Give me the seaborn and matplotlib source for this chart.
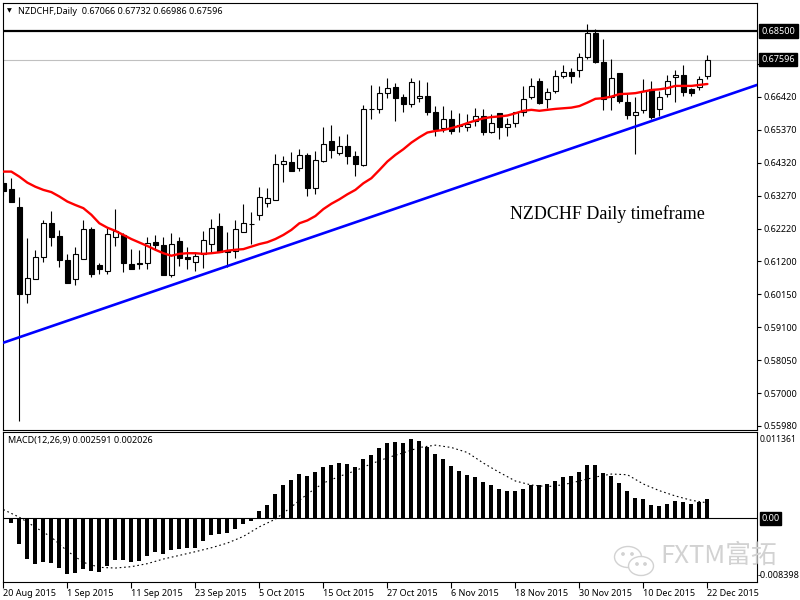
import numpy as np
import pandas as pd
import matplotlib
matplotlib.use("Agg")
import matplotlib.pyplot as plt
import matplotlib.transforms as mtransforms
from matplotlib.patches import Ellipse
import seaborn as sns

# ---------------- data ----------------
open_ = [0.6367, 0.6348, 0.6291, 0.6016, 0.6063, 0.6134, 0.6240, 0.6200, 0.6124, 0.6063,
         0.6126, 0.6221, 0.6108, 0.6087, 0.6196, 0.6203, 0.6110, 0.6115, 0.6115, 0.6180,
         0.6171, 0.6077, 0.6183, 0.6133, 0.6118, 0.6142, 0.6174, 0.6231, 0.6156, 0.6152,
         0.6213, 0.6238, 0.6267, 0.6304, 0.6314, 0.6428, 0.6434, 0.6415, 0.6457, 0.6351,
         0.6439, 0.6501, 0.6464, 0.6486, 0.6454, 0.6425, 0.6603, 0.6602, 0.6653, 0.6672,
         0.6640, 0.6618, 0.6637, 0.6645, 0.6594, 0.6542, 0.6570, 0.6552, 0.6547, 0.6563,
         0.6579, 0.6531, 0.6589, 0.6547, 0.6558, 0.6593, 0.6642, 0.6690, 0.6634, 0.6660,
         0.6708, 0.6719, 0.6727, 0.6767, 0.6843, 0.6751, 0.6640, 0.6716, 0.6624, 0.6584,
         0.6600, 0.6665, 0.6602, 0.6650, 0.6704, 0.6711, 0.6665, 0.6674, 0.67066]
high_ = [0.6390, 0.6383, 0.6323, 0.6193, 0.6156, 0.6251, 0.6279, 0.6219, 0.6142, 0.6164,
         0.6251, 0.6228, 0.6115, 0.6224, 0.6285, 0.6209, 0.6158, 0.6156, 0.6198, 0.6203,
         0.6196, 0.6209, 0.6196, 0.6164, 0.6150, 0.6217, 0.6253, 0.6274, 0.6213, 0.6249,
         0.6302, 0.6275, 0.6355, 0.6351, 0.6460, 0.6454, 0.6466, 0.6476, 0.6462, 0.6468,
         0.6547, 0.6552, 0.6518, 0.6523, 0.6468, 0.6616, 0.6679, 0.6676, 0.6700, 0.6686,
         0.6651, 0.6700, 0.6695, 0.6688, 0.6612, 0.6612, 0.6600, 0.6591, 0.6586, 0.6605,
         0.6603, 0.6586, 0.6591, 0.6573, 0.6594, 0.6676, 0.6700, 0.6700, 0.6669, 0.6727,
         0.6743, 0.6732, 0.6780, 0.6873, 0.6856, 0.6824, 0.6761, 0.6716, 0.6651, 0.6642,
         0.6697, 0.6692, 0.6661, 0.6711, 0.6727, 0.6743, 0.6669, 0.6708, 0.67732]
low_ = [0.6325, 0.6306, 0.5614, 0.5988, 0.6063, 0.6118, 0.6168, 0.6101, 0.6052, 0.6045,
        0.6126, 0.6071, 0.6079, 0.6079, 0.6169, 0.6084, 0.6094, 0.6094, 0.6094, 0.6156,
        0.6077, 0.6071, 0.6103, 0.6094, 0.6087, 0.6098, 0.6150, 0.6150, 0.6101, 0.6131,
        0.6213, 0.6175, 0.6249, 0.6291, 0.6314, 0.6372, 0.6407, 0.6407, 0.6328, 0.6332,
        0.6436, 0.6447, 0.6457, 0.6428, 0.6391, 0.6423, 0.6571, 0.6589, 0.6636, 0.6563,
        0.6594, 0.6610, 0.6626, 0.6584, 0.6518, 0.6531, 0.6524, 0.6529, 0.6534, 0.6549,
        0.6520, 0.6528, 0.6507, 0.6518, 0.6547, 0.6582, 0.6635, 0.6619, 0.6605, 0.6655,
        0.6700, 0.6685, 0.6705, 0.6761, 0.6750, 0.6600, 0.6600, 0.6623, 0.6570, 0.6460,
        0.6589, 0.6570, 0.6581, 0.6642, 0.6626, 0.6645, 0.6645, 0.6663, 0.66986]
close_ = [0.6344, 0.6306, 0.6016, 0.6066, 0.6134, 0.6240, 0.6195, 0.6122, 0.6052, 0.6142,
          0.6221, 0.6079, 0.6094, 0.6205, 0.6216, 0.6113, 0.6094, 0.6111, 0.6179, 0.6172,
          0.6077, 0.6174, 0.6129, 0.6128, 0.6136, 0.6186, 0.6224, 0.6150, 0.6150, 0.6221,
          0.6240, 0.6238, 0.6323, 0.6320, 0.6427, 0.6437, 0.6407, 0.6457, 0.6351, 0.6440,
          0.6491, 0.6471, 0.6486, 0.6452, 0.6428, 0.6602, 0.6603, 0.6653, 0.6669, 0.6639,
          0.6618, 0.6688, 0.6645, 0.6594, 0.6540, 0.6570, 0.6534, 0.6549, 0.6555, 0.6579,
          0.6531, 0.6558, 0.6547, 0.6554, 0.6593, 0.6634, 0.6676, 0.6623, 0.6656, 0.6708,
          0.6719, 0.6708, 0.6767, 0.6843, 0.6751, 0.6635, 0.6700, 0.6629, 0.6584, 0.6593,
          0.6661, 0.6577, 0.6642, 0.6693, 0.6711, 0.6658, 0.6655, 0.6698, 0.67596]
ma_red = [0.6404, 0.6404, 0.6388, 0.6369, 0.6356, 0.6346, 0.6339, 0.6325, 0.6309, 0.6298,
          0.6288, 0.6267, 0.6240, 0.6226, 0.6216, 0.6203, 0.6190, 0.6179, 0.6168, 0.6156,
          0.6145, 0.6137, 0.6143, 0.6145, 0.6145, 0.6143, 0.6145, 0.6148, 0.6153, 0.6156,
          0.6158, 0.6166, 0.6174, 0.6180, 0.6190, 0.6203, 0.6219, 0.6240, 0.6249, 0.6263,
          0.6285, 0.6302, 0.6316, 0.6332, 0.6346, 0.6367, 0.6383, 0.6409, 0.6436, 0.6457,
          0.6475, 0.6496, 0.6513, 0.6528, 0.6533, 0.6536, 0.6542, 0.6549, 0.6558, 0.6566,
          0.6573, 0.6577, 0.6579, 0.6582, 0.6589, 0.6597, 0.6600, 0.6597, 0.6600, 0.6603,
          0.6605, 0.6607, 0.6612, 0.6623, 0.6635, 0.6637, 0.6642, 0.6650, 0.6651, 0.6653,
          0.6658, 0.6663, 0.6665, 0.6669, 0.6676, 0.6676, 0.6676, 0.6679, 0.6682]
macd = [0.0000, -0.00061, -0.00347, -0.00536, -0.0061, -0.00584, -0.00597, -0.00654, -0.00742, -0.00729,
        -0.00667, -0.00698, -0.00716, -0.00637, -0.00558, -0.00558, -0.0058, -0.00566, -0.00505, -0.00452,
        -0.00479, -0.00426, -0.00413, -0.004, -0.00391, -0.00303, -0.00228, -0.00215, -0.00198, -0.00149,
        -0.00083, -0.00035, 0.00092, 0.00176, 0.0032, 0.00435, 0.00505, 0.0058, 0.00558, 0.00606,
        0.00672, 0.00702, 0.00724, 0.00711, 0.00672, 0.00781, 0.00838, 0.00935, 0.01001, 0.01014,
        0.01001, 0.01045, 0.01023, 0.00948, 0.00847, 0.00781, 0.00689, 0.00623, 0.00571, 0.00544,
        0.00479, 0.00439, 0.00386, 0.0036, 0.0036, 0.00386, 0.00439, 0.00439, 0.00452, 0.00492,
        0.00544, 0.00558, 0.0061, 0.00702, 0.00702, 0.00597, 0.00558, 0.00465, 0.0036, 0.00268,
        0.00255, 0.00176, 0.00162, 0.00189, 0.00228, 0.00215, 0.00189, 0.00215, 0.002591]
signal_bar = list(range(0, 89, 2))
signal = [0.00114, 0.00013, -0.00119, -0.0025, -0.00435, -0.00584, -0.0065, -0.00659, -0.00641, -0.00601,
          -0.0054, -0.00492, -0.00443, -0.00391, -0.00329, -0.00241, -0.00114, -0.00013, 0.00149, 0.0032,
          0.00465, 0.00553, 0.00628, 0.0072, 0.00799, 0.00865, 0.00935, 0.00966, 0.00935, 0.00869,
          0.00729, 0.00606, 0.00492, 0.00439, 0.00417, 0.00443, 0.00492, 0.00544, 0.00584, 0.00575,
          0.00452, 0.00364, 0.00294, 0.00237, 0.002026]
trend_bar = [0.0, 94.2]
trend_price = [0.5861, 0.6679]
resistance = 0.68500
price_ticks = [0.67470, 0.66420, 0.65370, 0.64320, 0.63270, 0.62220, 0.61200,
               0.60150, 0.59100, 0.58050, 0.57000, 0.55980]
hidden_tick = 0.67470  # label covered by the current-price box
date_labels = ["20 Aug 2015", "1 Sep 2015", "11 Sep 2015", "23 Sep 2015", "5 Oct 2015",
               "15 Oct 2015", "27 Oct 2015", "6 Nov 2015", "18 Nov 2015", "30 Nov 2015",
               "10 Dec 2015", "22 Dec 2015"]
header = "NZDCHF,Daily  0.67066 0.67732 0.66986 0.67596"
macd_header = "MACD(12,26,9) 0.002591 0.002026"

# ---------------- styling ----------------
sns.set_theme(style="white")
plt.rcParams["font.family"] = ["Noto Sans", "DejaVu Sans"]
FS = 6.5

W, H = 800, 600
fig = plt.figure(figsize=(8, 6), dpi=100)
fig.patch.set_facecolor("white")

def box(l, t, r, b):
    return [l / W, 1 - b / H, (r - l) / W, (b - t) / H]

ax = fig.add_axes(box(2.7, 2.7, 757, 430))
ax2 = fig.add_axes(box(2.7, 432.3, 757, 581.7))

df = pd.DataFrame({"bar": np.arange(len(close_)), "o": open_, "h": high_,
                   "l": low_, "c": close_, "ma": ma_red})
up = df["c"] >= df["o"]
body_lo = np.minimum(df["o"], df["c"])
body_h = (df["c"] - df["o"]).abs()

# price panel
ax.vlines(df["bar"], df["l"], df["h"], color="black", lw=0.8, zorder=2)
ax.bar(df["bar"], body_h, bottom=body_lo, width=0.62,
       color=np.where(up, "white", "black"), edgecolor="black", linewidth=0.8, zorder=3)
sns.lineplot(x=df["bar"], y=df["ma"], color="#ff0000", lw=1.7, ax=ax, zorder=4)
sns.lineplot(x=trend_bar, y=trend_price, color="#0000ff", lw=1.9, ax=ax, zorder=4)
ax.axhline(resistance, color="black", lw=1.6, zorder=5)
ax.axhline(close_[-1], color="#c0c0c0", lw=0.8, zorder=1)

ax.set_xlim(-0.08, 94.2)
ax.set_ylim(0.5584, 0.6940)
ax.set_xlabel("")
ax.set_ylabel("")
ax.set_xticks([])
ax.yaxis.tick_right()
ax.set_yticks(price_ticks)
ax.set_yticklabels(["" if v == hidden_tick else f"{v:.5f}" for v in price_ticks])
ax.tick_params(axis="y", right=True, left=False, direction="out", length=3,
               width=0.8, labelsize=FS, pad=2, colors="black")
for s in ax.spines.values():
    s.set_color("black")
    s.set_linewidth(0.8)

btrans = mtransforms.blended_transform_factory(ax.transAxes, ax.transData)
for val, lab in [(resistance, "0.68500"), (close_[-1], "0.67596")]:
    ax.text(1.006, val, lab, transform=btrans, ha="left", va="center", color="white",
            fontsize=FS, zorder=10, clip_on=False,
            bbox=dict(boxstyle="square,pad=0.25", fc="black", ec="black"))

ax.text(0.6726, 0.5055, "NZDCHF Daily timeframe", transform=ax.transAxes,
        family="Liberation Serif", fontsize=13, va="center", ha="left", color="black")

# MACD panel
sns.barplot(x=df["bar"], y=macd, native_scale=True, color="black", width=0.5,
            saturation=1, errorbar=None, linewidth=0, ax=ax2, zorder=3)
sns.lineplot(x=signal_bar, y=signal, color="black", lw=0.8,
             linestyle=(0, (1.5, 2.5)), ax=ax2, zorder=4)
ax2.axhline(0, color="black", lw=0.8, zorder=2)
ax2.set_xlim(-0.08, 94.2)
ax2.set_ylim(-0.008398, 0.011361)
ax2.set_xlabel("")
ax2.set_ylabel("")
ax2.set_yticks([])
tick_pos = list(range(0, 89, 8))
ax2.set_xticks(tick_pos)
ax2.set_xticklabels(date_labels, ha="left")
ax2.tick_params(axis="x", bottom=True, direction="out", length=4, width=0.8,
                labelsize=FS, pad=1, colors="black")
for s in ax2.spines.values():
    s.set_color("black")
    s.set_linewidth(0.8)

btrans2 = mtransforms.blended_transform_factory(ax2.transAxes, ax2.transData)
ax2.text(1.004, 0.953, "0.011361", transform=ax2.transAxes, va="center", ha="left",
         fontsize=6.2, color="black", clip_on=False)
ax2.text(1.001, 0.04, "-0.008398", transform=ax2.transAxes, va="center", ha="left",
         fontsize=FS, color="black", clip_on=False)
ax2.text(1.006, 0.0, "0.00", transform=btrans2, ha="left", va="center", color="white",
         fontsize=FS, clip_on=False,
         bbox=dict(boxstyle="square,pad=0.2", fc="black", ec="black"))

# headers
fig.text(7 / W, 1 - 11 / H, "\u25BC", fontsize=4.5, va="center", ha="left",
         family=["DejaVu Sans"], color="black")
fig.text(18 / W, 1 - 11 / H, header, fontsize=FS, va="center", ha="left", color="black")
fig.text(7.7 / W, 1 - 441 / H, macd_header, fontsize=FS, va="center", ha="left", color="black")

# watermark
wm = "#d2d2d2"
for cx, cy, w, h in [(628, 557, 27, 21), (641, 566, 25, 19)]:
    fig.add_artist(Ellipse((cx / W, 1 - cy / H), w / W, h / H, transform=fig.transFigure,
                           fc="white", ec=wm, lw=1.0))
for cx, cy in [(623, 554), (632, 554), (637, 564), (645, 564)]:
    fig.add_artist(Ellipse((cx / W, 1 - cy / H), 3 / W, 3 / H, transform=fig.transFigure,
                           fc=wm, ec=wm, lw=0.5))
fig.text(660 / W, 1 - 556 / H, "FXTM富拓", color=wm, fontsize=18.5, va="center", ha="left",
         family=["Noto Sans CJK SC", "DejaVu Sans"])

fig.savefig("out.png", dpi=100, facecolor="white")
